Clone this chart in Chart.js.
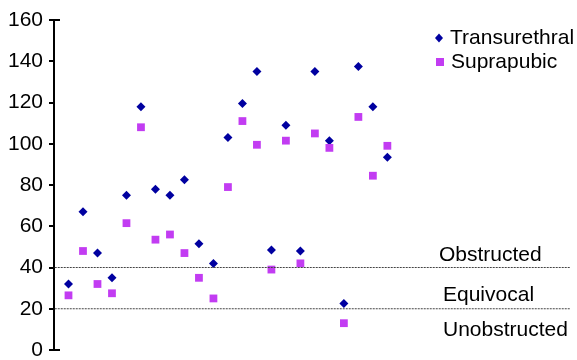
<!DOCTYPE html>
<html>
<head>
<meta charset="utf-8">
<script src="https://cdn.jsdelivr.net/npm/chart.js@4.4.1/dist/chart.umd.min.js"></script>
<style>
    body { margin: 0; background: #fff; }
    #box { width: 577px; height: 360px; }
</style>
</head>
<body>
<div id="box"><canvas id="grafico"></canvas></div>
<script>
var pazienti = [1, 2, 3, 4, 5, 6, 7, 8, 9, 10, 11, 12, 13, 14, 15, 16, 17, 18, 19, 20, 21, 22, 23];
var transuretrale = [32, 67, 47, 35, 75, 118, 78, 75, 82.5, 51.5, 42, 103, 119.5, 135, 48.5, 109, 48, 135, 101.5, 22.5, 137.5, 118, 93.5];
var soprapubico = [26.5, 48, 32, 27.5, 61.5, 108, 53.5, 56, 47, 35, 25, 79, 111, 99.5, 39, 101.5, 42, 105, 98, 13, 113, 84.5, 99];
var tickY = [0, 20, 40, 60, 80, 100, 120, 140, 160];
var soglie = [40, 20];
var zone = ['Obstructed', 'Equivocal', 'Unobstructed'];
var zoneY = [46, 26.5, 9.5];
var nomiSerie = ['Transurethral', 'Suprapubic'];

var BLU = '#0000a0';
var VIOLA = '#c23cf2';
var FONT = '"Liberation Sans", Arial, sans-serif';

function creaPunti(valori) {
    var punti = [];
    for (var i = 0; i < pazienti.length; i++) {
        punti.push({ x: pazienti[i], y: valori[i] });
    }
    return punti;
}

function creaSoglia(valore) {
    return {
        type: 'line',
        data: [{ x: 0.05, y: valore }, { x: 35.6, y: valore }],
        borderColor: '#444',
        borderWidth: 1,
        borderDash: [2, 1],
        pointRadius: 0,
        showLine: true,
        fill: false
    };
}

// etichette delle zone e legenda disegnate a mano
var testiPlugin = {
    id: 'testi',
    afterDraw: function (chart) {
        var ctx = chart.ctx;
        var y = chart.scales.y;
        ctx.save();
        ctx.fillStyle = '#000';
        ctx.font = '21px ' + FONT;
        ctx.textBaseline = 'middle';
        ctx.textAlign = 'left';
        for (var i = 0; i < zone.length; i++) {
            ctx.fillText(zone[i], i == 0 ? 439 : 443, y.getPixelForValue(zoneY[i]));
        }

        // legenda
        ctx.fillStyle = BLU;
        ctx.beginPath();
        ctx.moveTo(439, 33.5);
        ctx.lineTo(443, 38);
        ctx.lineTo(439, 42.5);
        ctx.lineTo(435, 38);
        ctx.closePath();
        ctx.fill();
        ctx.fillStyle = VIOLA;
        ctx.fillRect(436, 58, 8, 8);
        ctx.fillStyle = '#000';
        ctx.fillText(nomiSerie[0], 450, 38);
        ctx.fillText(nomiSerie[1], 451, 62);

        // tacche in cima e in fondo all'asse
        ctx.strokeStyle = '#000';
        ctx.lineWidth = 2;
        ctx.beginPath();
        ctx.moveTo(54, y.getPixelForValue(160));
        ctx.lineTo(60, y.getPixelForValue(160));
        ctx.moveTo(54, y.getPixelForValue(0));
        ctx.lineTo(60, y.getPixelForValue(0));
        ctx.stroke();
        ctx.restore();
    }
};

var ctx = document.getElementById('grafico');
var grafico = new Chart(ctx, {
    type: 'scatter',
    data: {
        datasets: [
            creaSoglia(soglie[0]),
            creaSoglia(soglie[1]),
            {
                label: nomiSerie[1],
                data: creaPunti(soprapubico),
                pointStyle: 'rect',
                pointRadius: 5.5,
                backgroundColor: VIOLA,
                borderWidth: 0
            },
            {
                label: nomiSerie[0],
                data: creaPunti(transuretrale),
                pointStyle: 'rectRot',
                pointRadius: 4.5,
                backgroundColor: BLU,
                borderWidth: 0
            }
        ]
    },
    options: {
        responsive: true,
        maintainAspectRatio: false,
        animation: false,
        layout: { padding: { top: 20, bottom: 10, right: 7, left: 0 } },
        plugins: {
            legend: { display: false },
            tooltip: { enabled: false }
        },
        scales: {
            x: {
                type: 'linear',
                min: 0,
                max: 35.6,
                display: false
            },
            y: {
                min: 0,
                max: 160,
                afterFit: function (scala) {
                    scala.width = 54;
                    scala.paddingTop = 0;
                    scala.paddingBottom = 0;
                },
                afterBuildTicks: function (scala) {
                    scala.ticks = tickY.map(function (v) { return { value: v }; });
                },
                border: { display: true, color: '#000', width: 2 },
                grid: { drawOnChartArea: false, color: '#000', tickLength: 5, lineWidth: 2 },
                ticks: {
                    color: '#000',
                    padding: 6,
                    font: { family: FONT, size: 21 }
                }
            }
        }
    },
    plugins: [testiPlugin]
});
</script>
</body>
</html>
